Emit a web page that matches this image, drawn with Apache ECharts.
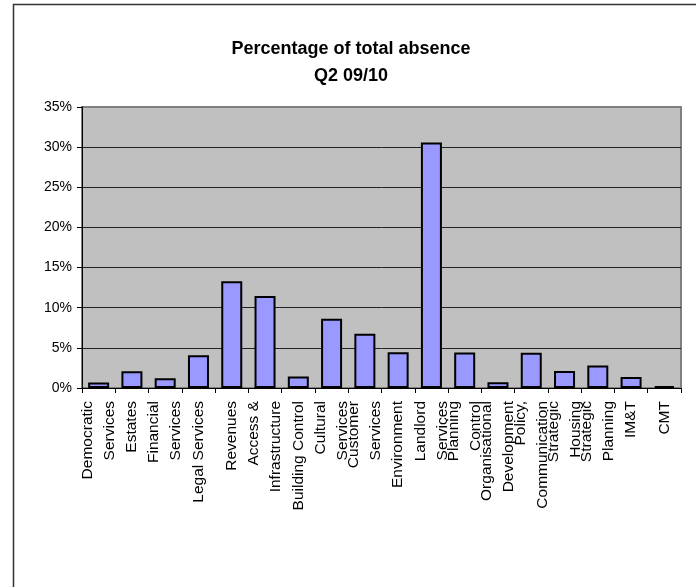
<!DOCTYPE html>
<html>
<head>
<meta charset="utf-8">
<script src="https://cdn.jsdelivr.net/npm/echarts@6/dist/echarts.min.js"></script>
<style>
  html, body { margin: 0; padding: 0; background: #fff; }
  #chart { width: 696px; height: 587px; }
</style>
</head>
<body>
<div id="chart"></div>
<script>
// Department names (wrapped onto two lines where long)
const categories = [
  'Democratic\nServices', 'Estates', 'Financial\nServices', 'Legal Services',
  'Revenues', 'Access &\nInfrastructure', 'Building Control', 'Cultural\nServices',
  'Customer\nServices', 'Environment', 'Landlord\nServices', 'Planning\nControl',
  'Organisational\nDevelopment', 'Policy,\nCommunication', 'Strategic\nHousing',
  'Strategic\nPlanning', 'IM&T', 'CMT'
];

// Share of total absence, in percent
const absenceShare = [
  0.67, 2.08, 1.2, 4.08, 13.3, 11.46, 1.42, 8.63,
  6.75, 4.46, 30.58, 4.42, 0.71, 4.38, 2.12, 2.79, 1.38, 0.22
];

// Value axis range and step (percent)
const yMin = 0;
const yMax = 35;
const yStep = 5;

const chart = echarts.init(document.getElementById('chart'), null, { renderer: 'canvas' });

const FONT = '"Liberation Sans", Arial, sans-serif';
const gridLineCount = (yMax - yMin) / yStep + 1;
const gridColors = [];
for (let i = 0; i < gridLineCount; i++) {
  gridColors.push(i === gridLineCount - 1 ? '#808080' : '#222222');
}

chart.setOption({
  backgroundColor: '#ffffff',
  animation: false,
  title: {
    text: 'Percentage of total absence\nQ2 09/10',
    left: 351,
    top: 36,
    textAlign: 'center',
    padding: 0,
    textStyle: {
      fontFamily: FONT,
      fontWeight: 'bold',
      fontSize: 18,
      lineHeight: 27,
      color: '#000'
    }
  },
  graphic: [
    {
      type: 'rect',
      silent: true,
      shape: { x: 13.5, y: 4.5, width: 720, height: 620 },
      style: { fill: 'none', stroke: '#333', lineWidth: 1.5 },
      z: 100
    }
  ],
  grid: {
    left: 82,
    right: 15,
    top: 107,
    bottom: 199,
    containLabel: false,
    outerBoundsMode: 'none',
    show: true,
    backgroundColor: '#c0c0c0',
    borderColor: '#808080',
    borderWidth: 2
  },
  xAxis: {
    type: 'category',
    data: categories,
    boundaryGap: true,
    axisLine: { show: true, lineStyle: { color: '#000', width: 1 } },
    axisTick: { show: true, length: 5, lineStyle: { color: '#000' } },
    axisLabel: {
      interval: 0,
      rotate: 90,
      margin: 13,
      fontFamily: FONT,
      fontSize: 15.5,
      lineHeight: 22,
      color: '#000',
      overflow: 'none',
      hideOverlap: false
    },
    splitLine: { show: false }
  },
  yAxis: {
    type: 'value',
    min: yMin,
    max: yMax,
    interval: yStep,
    axisLine: { show: true, lineStyle: { color: '#000', width: 1 } },
    axisTick: { show: true, length: 5, lineStyle: { color: '#000' } },
    axisLabel: {
      formatter: '{value}%',
      margin: 10,
      fontFamily: FONT,
      fontSize: 14,
      color: '#000'
    },
    splitLine: { show: true, lineStyle: { color: gridColors, width: 1 } }
  },
  series: [
    {
      type: 'bar',
      data: absenceShare,
      barWidth: 21,
      itemStyle: {
        color: '#9999ff',
        borderColor: '#000',
        borderWidth: 2
      }
    }
  ]
});
</script>
</body>
</html>
